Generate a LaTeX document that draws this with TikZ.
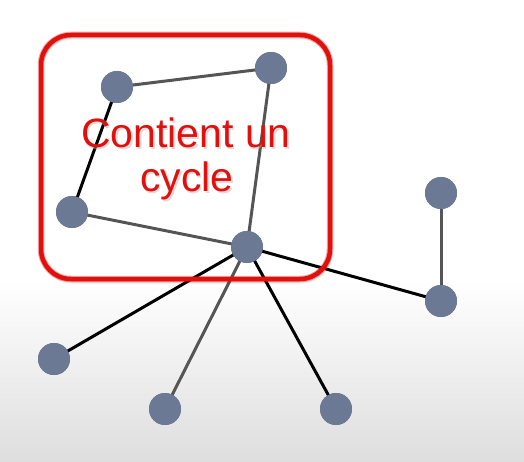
\documentclass[tikz,border=0pt]{standalone}
\usepackage{fontspec}
\setmainfont{Liberation Sans}
\definecolor{nodeblue}{RGB}{107,121,148}
\definecolor{boxred}{RGB}{226,16,12}
\definecolor{edgegray}{RGB}{85,85,85}
\tikzset{
  vertex/.style={circle, fill=nodeblue, inner sep=0pt, minimum size=32pt},
  blackedge/.style={draw=black, line width=3pt},
  grayedge/.style={draw=edgegray, line width=3pt},
  redlabel/.style={text=boxred, font=\fontsize{41}{45}\selectfont, anchor=base, inner sep=0pt}
}
\begin{document}
\begin{tikzpicture}[x=1pt,y=-1pt]
\useasboundingbox (0,0) rectangle (524,462);
\fill[white] (0,0) rectangle (524,280);
\shade[top color=white, bottom color=black!13] (0,280) rectangle (524,462);
% nodes
\node[vertex] (a) at (117,87) {};
\node[vertex] (b) at (271,68) {};
\node[vertex] (c) at (72,212) {};
\node[vertex] (d) at (247,247) {};
\node[vertex] (e) at (441,193) {};
\node[vertex] (f) at (441,301) {};
\node[vertex] (g) at (54,359) {};
\node[vertex] (h) at (165,409) {};
\node[vertex] (i) at (336,409) {};
% edges
\path[grayedge] (a.center) -- (b.center);
\path[grayedge] (b.center) -- (d.center);
\path[blackedge] (a.center) -- (c.center);
\path[grayedge] (c.center) -- (d.center);
\path[blackedge] (d.center) -- (f.center);
\path[grayedge] (e.center) -- (f.center);
\path[blackedge] (d.center) -- (g.center);
\path[grayedge] (d.center) -- (h.center);
\path[blackedge] (d.center) -- (i.center);
% redraw nodes on top of the edges
\foreach \n in {a,b,c,d,e,f,g,h,i} { \fill[nodeblue] (\n) circle (16pt); }
% red box
\draw[black, line width=3pt, opacity=0.08, rounded corners=30pt] (42,38) rectangle (331,282);
\draw[boxred, line width=6.5pt, opacity=0.35, rounded corners=30pt] (41,35) rectangle (330,279);
\draw[boxred, line width=4.5pt, rounded corners=30pt] (41,35) rectangle (330,279);
% text
\node[redlabel, text=black!30, opacity=0.45] (t1s) at (187.5,149.5) {Contient un};
\node[redlabel, text=black!30, opacity=0.45] (t2s) at (188.5,193.5) {cycle};
\node[redlabel] (t1) at (186,148) {Contient un};
\node[redlabel] (t2) at (187,192) {cycle};
\end{tikzpicture}
\end{document}
